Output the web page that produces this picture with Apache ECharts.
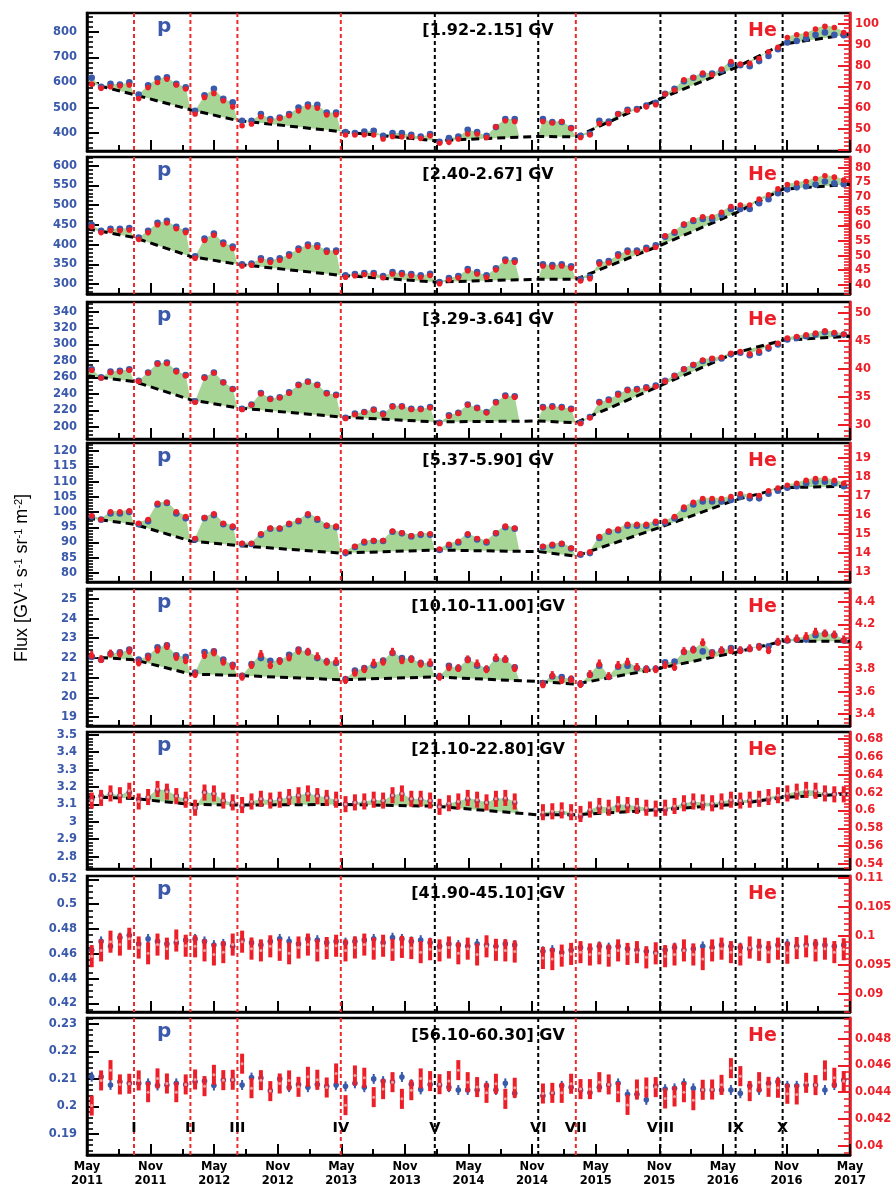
<!DOCTYPE html>
<html>
<head>
<meta charset="utf-8">
<script src="https://cdn.jsdelivr.net/npm/echarts@6/dist/echarts.min.js"></script>
<style>
  html, body { margin: 0; padding: 0; background: #fff; }
  #chart { width: 892px; height: 1187px; }
</style>
</head>
<body>
<div id="chart"></div>
<script>
// Bartels rotations measured (2472 and 2473 missing)
const rotations = [
  2426,2427,2428,2429,2430,2431,2432,2433,2434,2435,2436,2437,2438,2439,2440,2441,
  2442,2443,2444,2445,2446,2447,2448,2449,2450,2451,2452,2453,2454,2455,2456,2457,
  2458,2459,2460,2461,2462,2463,2464,2465,2466,2467,2468,2469,2470,2471,
  2474,2475,2476,2477,2478,2479,2480,2481,2482,2483,2484,2485,2486,2487,2488,2489,
  2490,2491,2492,2493,2494,2495,2496,2497,2498,2499,2500,2501,2502,2503,2504,2505,2506
];
const tickLabels = ['May\n2011','Nov\n2011','May\n2012','Nov\n2012','May\n2013','Nov\n2013','May\n2014',
  'Nov\n2014','May\n2015','Nov\n2015','May\n2016','Nov\n2016','May\n2017'];
const boundaryRot = [2431, 2437, 2442, 2453, 2463, 2474, 2478, 2487, 2495, 2500];
const boundaryNames = ['I','II','III','IV','V','VI','VII','VIII','IX','X'];
const boundaryColors = ['#ee2b2b','#ee2b2b','#ee2b2b','#ee2b2b','#000','#000','#ee2b2b','#000','#000','#000'];
const binLabels = ['[1.92-2.15] GV','[2.40-2.67] GV','[3.29-3.64] GV','[5.37-5.90] GV',
  '[10.10-11.00] GV','[21.10-22.80] GV','[41.90-45.10] GV','[56.10-60.30] GV'];

// proton and helium fluxes, one value per rotation
const pFlux1 = [619,583,595,592,601,552,589,616,621,595,581,
  488,549,575,535,521,448,448,475,455,461,475,501,512,511,481,481,
  403,399,405,408,388,399,399,392,385,395,365,379,385,412,403,388,423,455,455,
  455,443,443,419,388,396,448,445,475,492,495,508,519,555,575,605,619,632,636,648,672,669,665,685,705,732,759,765,775,789,799,789,788];
const heFlux1 = [71.7,69.8,70.5,70.9,71.3,64.9,70.1,72.5,74.1,71.3,69.4,
  57.5,65.4,67.3,63.8,60.9,51.9,52.7,56.2,54.3,55.4,56.7,59.0,60.9,60.3,57.1,57.1,
  47.5,47.5,47.6,47.5,45.6,46.8,46.7,46.7,45.9,47.1,43.6,44.0,45.6,48.0,48.0,46.3,51.4,54.3,53.9,
  53.9,53.2,53.9,50.6,46.3,47.6,53.0,53.0,57.5,59.0,59.4,60.9,61.9,67.0,68.9,73.8,74.9,77.0,76.2,78.9,82.5,81.3,81.6,83.9,87.1,89.2,93.9,95.2,95.5,97.9,99.2,98.7,96.3];
const pFlux2 = [450,435,440,440,442,418,435,455,460,445,435,
  370,415,428,405,395,350,352,365,360,365,375,390,400,398,385,385,
  322,325,328,328,320,330,328,325,322,326,305,315,320,338,330,322,340,362,360,
  350,348,350,345,312,318,355,358,375,385,385,392,398,420,430,450,460,465,465,475,490,490,490,505,515,530,540,545,548,552,560,555,553];
const heFlux2 = [60.1,58.1,58.8,58.8,59.0,55.8,58.1,60.8,61.4,59.4,58.1,
  49.4,55.4,57.2,54.1,52.7,46.7,47.0,48.7,48.0,48.7,50.1,52.1,53.4,53.1,51.4,51.4,
  42.9,43.4,43.8,43.8,42.7,44.0,43.8,43.4,42.9,43.5,40.7,42.0,42.7,45.1,44.0,42.9,45.4,48.3,48.0,
  46.7,46.4,46.7,46.0,41.6,42.4,47.4,47.8,50.1,51.4,51.4,52.3,53.1,57.0,58.5,61.0,62.5,63.5,63.5,65.0,67.0,67.5,67.5,69.5,71.0,73.0,74.5,75.0,75.5,76.5,77.5,77.0,76.0];
const pFlux3 = [270,260,267,268,270,256,266,277,278,268,263,
  231,260,266,254,246,222,227,241,234,236,242,251,255,251,241,239,
  211,216,218,221,216,225,225,222,222,224,205,214,217,227,223,218,230,238,237,
  224,225,224,222,205,212,230,233,240,245,246,248,250,256,262,270,275,280,282,283,288,290,287,290,295,300,306,308,310,312,315,313,312];
const heFlux3 = [39.9,38.5,39.5,39.6,39.9,37.9,39.4,41.0,41.1,39.6,38.9,
  34.2,38.5,39.4,37.7,36.5,32.9,33.7,35.7,34.7,35.0,35.8,37.2,37.8,37.2,35.7,35.4,
  31.3,32.0,32.4,32.8,32.0,33.4,33.4,32.9,32.9,33.2,30.4,31.7,32.2,33.7,33.1,32.3,34.1,35.2,35.1,
  33.2,33.3,33.2,32.9,30.4,31.4,34.1,34.5,35.5,36.3,36.4,36.7,37.0,37.9,38.9,40.1,40.9,41.7,42.0,42.2,42.9,43.2,42.8,43.3,44.0,44.7,45.6,45.9,46.2,46.5,46.9,46.6,46.3];
const pFlux4 = [98.5,97.5,99.5,99.5,100,96,97,102.5,103,99.5,98,
  91,98,99,96,95,89.5,89.5,92.5,94.5,94.5,96,97,99,97.5,95.5,95,
  86.5,88.5,90,90.5,90.5,93.5,93,92,92.5,92.5,87.5,89,90,92.5,91,90,93,95,94.5,
  88.5,89,89.5,88,86,86.5,91.5,93.5,94,95.5,95.5,95.5,96.5,96.5,98,101,102.5,103.5,103.5,103.5,104,105,104.5,104.5,106,107,108,108.5,109.5,110,110,109.5,108.5];
const heFlux4 = [16.0,15.8,16.2,16.2,16.25,15.6,15.8,16.65,16.7,16.2,15.95,
  14.8,15.9,16.1,15.6,15.45,14.55,14.55,15.05,15.35,15.35,15.6,15.75,16.1,15.85,15.5,15.45,
  14.1,14.4,14.65,14.7,14.7,15.2,15.1,14.95,15.05,15.05,14.25,14.5,14.65,15.05,14.8,14.65,15.1,15.45,15.35,
  14.4,14.5,14.55,14.3,14.0,14.1,14.9,15.2,15.3,15.55,15.55,15.55,15.7,15.7,15.95,16.45,16.7,16.9,16.9,16.9,17.0,17.15,17.05,17.05,17.3,17.45,17.6,17.7,17.85,17.95,17.95,17.85,17.7];
const pFlux5 = [22.05,21.91,22.21,22.28,22.42,21.91,22.11,22.54,22.64,22.13,22.05,
  21.26,22.30,22.33,21.91,21.65,21.09,21.69,21.99,21.85,21.87,22.16,22.42,22.30,21.99,21.82,21.74,
  20.92,21.36,21.48,21.62,21.87,22.25,21.99,21.96,21.74,21.69,21.06,21.60,21.48,21.91,21.60,21.43,21.94,21.91,21.52,
  20.72,21.06,21.03,20.92,20.68,21.14,21.60,21.03,21.55,21.60,21.48,21.45,21.45,21.77,21.81,22.30,22.42,22.33,22.28,22.37,22.50,22.38,22.45,22.59,22.59,22.79,22.88,22.93,22.93,23.15,23.23,23.15,22.88];
const heFlux5 = [3.927,3.89,3.94,3.94,3.965,3.86,3.905,3.975,4.006,3.91,3.88,
  3.757,3.927,3.95,3.867,3.829,3.733,3.838,3.936,3.838,3.873,3.905,3.965,3.956,3.916,3.867,3.873,
  3.703,3.769,3.80,3.858,3.867,3.956,3.88,3.89,3.85,3.86,3.733,3.817,3.81,3.888,3.852,3.80,3.904,3.89,3.81,
  3.665,3.748,3.703,3.71,3.668,3.757,3.852,3.739,3.838,3.867,3.82,3.80,3.80,3.838,3.82,3.962,3.975,4.04,3.94,3.97,3.97,3.97,3.987,4.0,3.97,4.045,4.067,4.075,4.096,4.135,4.12,4.11,4.067];
const pFlux6 = [3.13,3.15,3.16,3.15,3.17,3.13,3.14,3.18,3.18,3.15,3.13,
  3.08,3.17,3.16,3.12,3.11,3.09,3.11,3.13,3.12,3.13,3.14,3.15,3.16,3.15,3.14,3.12,
  3.10,3.11,3.11,3.12,3.12,3.15,3.16,3.13,3.13,3.12,3.09,3.10,3.11,3.13,3.12,3.11,3.13,3.13,3.11,
  3.04,3.05,3.05,3.04,3.03,3.06,3.08,3.07,3.09,3.09,3.08,3.07,3.07,3.07,3.08,3.10,3.11,3.10,3.10,3.11,3.12,3.12,3.12,3.12,3.13,3.14,3.15,3.16,3.17,3.17,3.16,3.16,3.16];
const heFlux6 = [0.611,0.614,0.619,0.617,0.622,0.610,0.615,0.624,0.621,0.616,0.612,
  0.603,0.620,0.619,0.611,0.609,0.606,0.610,0.613,0.611,0.612,0.615,0.617,0.619,0.616,0.614,0.612,
  0.607,0.609,0.610,0.612,0.611,0.617,0.619,0.613,0.613,0.611,0.604,0.608,0.610,0.614,0.612,0.609,0.613,0.614,0.610,
  0.598,0.599,0.600,0.598,0.596,0.601,0.605,0.603,0.607,0.606,0.605,0.603,0.602,0.603,0.605,0.608,0.610,0.609,0.608,0.610,0.612,0.611,0.612,0.613,0.615,0.617,0.619,0.621,0.623,0.622,0.619,0.618,0.618];
const pFlux7 = [0.463,0.470,0.466,0.473,0.475,0.468,0.472,0.470,0.468,0.469,0.471,
  0.472,0.470,0.467,0.468,0.466,0.471,0.469,0.467,0.470,0.472,0.470,0.468,0.472,0.471,0.469,0.470,
  0.469,0.470,0.471,0.472,0.469,0.473,0.472,0.470,0.471,0.469,0.466,0.468,0.467,0.466,0.468,0.467,0.466,0.468,0.467,
  0.462,0.463,0.461,0.463,0.465,0.464,0.466,0.465,0.466,0.464,0.463,0.462,0.461,0.463,0.465,0.463,0.464,0.466,0.465,0.467,0.466,0.465,0.464,0.466,0.465,0.467,0.468,0.466,0.467,0.468,0.467,0.466,0.467];
const heFlux7 = [0.0965,0.0975,0.0990,0.0985,0.0995,0.0980,0.0970,0.0985,0.0978,0.0992,0.0983,
  0.0982,0.0975,0.0968,0.0972,0.0985,0.0990,0.0978,0.0975,0.0982,0.0976,0.0970,0.0980,0.0985,0.0975,0.0979,0.0983,
  0.0975,0.0980,0.0985,0.0978,0.0983,0.0976,0.0981,0.0979,0.0972,0.0977,0.0975,0.0980,0.0970,0.0978,0.0968,0.0982,0.0976,0.0975,0.0973,
  0.0962,0.0960,0.0966,0.0969,0.0972,0.0968,0.0970,0.0966,0.0975,0.0969,0.0972,0.0963,0.0970,0.0965,0.0968,0.0975,0.0968,0.0960,0.0975,0.0978,0.0972,0.0968,0.0980,0.0976,0.0972,0.0978,0.0971,0.0979,0.0982,0.0975,0.0978,0.0972,0.0977];
const pFlux8 = [0.2108,0.2108,0.2078,0.209,0.2084,0.2084,0.2084,0.2076,0.2078,0.2084,0.208,
  0.209,0.2092,0.2076,0.2096,0.2096,0.2078,0.2105,0.2103,0.2057,0.21,0.207,0.208,0.207,0.208,0.2073,0.2078,
  0.2073,0.2084,0.207,0.21,0.2092,0.209,0.2107,0.2081,0.2062,0.208,0.2078,0.207,0.206,0.206,0.206,0.2075,0.206,0.2084,0.2048,
  0.2039,0.2048,0.2075,0.207,0.206,0.205,0.207,0.2078,0.2084,0.2044,0.2044,0.2024,0.2075,0.2063,0.2066,0.2084,0.2066,0.206,0.206,0.206,0.206,0.2048,0.2075,0.206,0.2084,0.209,0.2075,0.2075,0.2078,0.2078,0.206,0.2078,0.2096];
const heFlux8 = [0.0430,0.04488,0.04565,0.04458,0.04463,0.04488,0.0440,0.04503,0.04465,0.0440,0.04458,
  0.04495,0.04445,0.0453,0.0449,0.04493,0.04613,0.0443,0.0449,0.04408,0.04465,0.04488,0.0444,0.04515,0.04493,0.04435,0.0454,
  0.04303,0.04525,0.04508,0.04363,0.04423,0.04475,0.0435,0.04415,0.04503,0.04483,0.0446,0.04483,0.04565,0.04475,0.04438,0.04395,0.04463,0.0435,0.04433,
  0.0439,0.04395,0.04395,0.04463,0.04423,0.04423,0.04475,0.04458,0.044,0.04305,0.0442,0.04435,0.04438,0.04353,0.04368,0.044,0.0434,0.04418,0.0442,0.04455,0.0458,0.0452,0.04408,0.04475,0.0444,0.04433,0.04388,0.04383,0.0447,0.04453,0.04563,0.04508,0.04483];

// dashed reference line: values at start, I..X, end
const base1 = [599,552,492,449,405,369,386,384,536,659,752,792];
const base2 = [440,418,370,350,322,305,312,312,398,480,540,553];
const base3 = [262,255,233,223,212,206,207,205,250,290,305,310];
const base4 = [98,96,90.5,89,86.5,87.5,87,85.5,95,104,108,108.5];
const base5 = [22.06,21.91,21.18,21.11,20.89,21.03,20.8,20.67,21.48,22.28,22.84,22.84];
const base6 = [3.144,3.134,3.10,3.096,3.10,3.09,3.04,3.04,3.07,3.10,3.14,3.16];

// typical error sizes per panel
const pErr = [1.5, 1.2, 0.5, 0.12, 0.05, 0.012, 0.004, 0.0018];
const heErr = [0.3, 0.25, 0.12, 0.05, 0.035, 0.009, 0.0019, 0.00075];

// axis ticks
const pTicks = [[400,500,600,700,800],[300,350,400,450,500,550,600],[200,220,240,260,280,300,320,340],
  [80,85,90,95,100,105,110,115,120],[19,20,21,22,23,24,25],[2.8,2.9,3,3.1,3.2,3.3,3.4,3.5],
  [0.42,0.44,0.46,0.48,0.5,0.52],[0.19,0.2,0.21,0.22,0.23]];
const heTicks = [[40,50,60,70,80,90,100],[40,45,50,55,60,65,70,75,80],[30,35,40,45,50],
  [13,14,15,16,17,18,19],[3.4,3.6,3.8,4,4.2,4.4],[0.54,0.56,0.58,0.6,0.62,0.64,0.66,0.68],
  [0.09,0.095,0.1,0.105,0.11],[0.04,0.042,0.044,0.046,0.048]];
const pMinorStep = [20, 10, 5, 1, 0.2, 0.02, 0.005, 0.002];
const heMinorStep = [2, 1, 1, 0.2, 0.04, 0.004, 0.001, 0.0005];
const pRange = [[328,876],[274.6,622],[185.2,351.6],[77,122.7],[18.54,25.5],[2.729,3.516],[0.4131,0.5227],[0.1824,0.2321]];
const heRange = [[39.5,105.2],[36.9,83.6],[27.5,51.9],[12.48,19.77],[3.293,4.516],[0.5344,0.6878],[0.0869,0.1103],[0.0393,0.04955]];

const pAll = [pFlux1,pFlux2,pFlux3,pFlux4,pFlux5,pFlux6,pFlux7,pFlux8];
const heAll = [heFlux1,heFlux2,heFlux3,heFlux4,heFlux5,heFlux6,heFlux7,heFlux8];
const baseAll = [base1,base2,base3,base4,base5,base6,null,null];

// layout
const gridTop = [13,157,302,443,589,732,876,1018];
const gridH = [138,137,137,139,137,137,136,137];
const LEFT = 87, RIGHT = 42;
const BLUE = '#3a59aa', RED = '#ec1f28', GREEN = '#a7d595';
const FONT = "'DejaVu Sans', sans-serif";
const TITLE_FONT = "'Liberation Sans', Arial, sans-serif";

const MONTH = 30.4375;
const xOfRot = r => (27 * (r - 2426) + 13.5) / MONTH;   // months after 15 May 2011
const xOfBound = r => 27 * (r - 2426) / MONTH;
const xs = rotations.map(xOfRot);
const vx = [0].concat(boundaryRot.map(xOfBound), [72]);
const half = 13.5 / MONTH;

function minorValues(min, max, step) {
  const out = [];
  for (let k = Math.ceil(min / step - 1e-9); k * step <= max + 1e-12; k++) out.push(+(k * step).toFixed(6));
  return out;
}

const grids = [], xAxes = [], yAxes = [], series = [], graphics = [];

for (let g = 0; g < 8; g++) {
  grids.push({ left: LEFT, right: RIGHT, top: gridTop[g], height: gridH[g], show: true,
    borderColor: '#000', borderWidth: 2.5, backgroundColor: 'transparent', outerBoundsMode: 'none' });

  xAxes.push({
    gridIndex: g, type: 'value', min: 0, max: 72, interval: 6,
    axisLine: { show: true, lineStyle: { color: '#000', width: 2.5 } },
    axisTick: { show: true, inside: true, length: 11, lineStyle: { color: '#000', width: 2 } },
    minorTick: { show: true, splitNumber: 2, length: 6, lineStyle: { color: '#000', width: 2 } },
    splitLine: { show: false },
    axisLabel: { show: g === 7, formatter: v => tickLabels[Math.round(v / 6)] || '',
      color: '#000', fontWeight: 'bold', fontSize: 11.5, fontFamily: FONT, lineHeight: 14, margin: 5 }
  });

  const [pMin, pMax] = pRange[g];
  const [hMin, hMax] = heRange[g];
  yAxes.push({
    gridIndex: g, type: 'value', position: 'left', min: pMin, max: pMax,
    axisLine: { show: true, lineStyle: { color: '#000', width: 2.5 } },
    axisTick: { show: true, inside: true, length: 12, customValues: pTicks[g], lineStyle: { color: '#000', width: 2 } },
    axisLabel: { show: true, customValues: pTicks[g], formatter: v => String(v), color: BLUE,
      fontWeight: 'bold', fontSize: 11.5, fontFamily: FONT, margin: 10 },
    splitLine: { show: false }
  });
  yAxes.push({
    gridIndex: g, type: 'value', position: 'left', min: pMin, max: pMax,
    axisLine: { show: false },
    axisTick: { show: true, inside: true, length: 6, customValues: minorValues(pMin, pMax, pMinorStep[g]),
      lineStyle: { color: '#000', width: 1.6 } },
    axisLabel: { show: false }, splitLine: { show: false }
  });
  yAxes.push({
    gridIndex: g, type: 'value', position: 'right', min: hMin, max: hMax,
    axisLine: { show: true, lineStyle: { color: RED, width: 2.5 } },
    axisTick: { show: true, inside: true, length: 12, customValues: heTicks[g], lineStyle: { color: RED, width: 2 } },
    axisLabel: { show: true, customValues: heTicks[g], formatter: v => String(v), color: RED,
      fontWeight: 'bold', fontSize: 11.5, fontFamily: FONT, margin: 5 },
    splitLine: { show: false }
  });
  yAxes.push({
    gridIndex: g, type: 'value', position: 'right', min: hMin, max: hMax,
    axisLine: { show: false },
    axisTick: { show: true, inside: true, length: 6, customValues: minorValues(hMin, hMax, heMinorStep[g]),
      lineStyle: { color: RED, width: 1.6 } },
    axisLabel: { show: false }, splitLine: { show: false }
  });

  const p = pAll[g], he = heAll[g], base = baseAll[g];
  const yL = 4 * g, yR = 4 * g + 2;
  const heToP = v => pMin + (v - hMin) / (hMax - hMin) * (pMax - pMin);

  // green shaded excess above the reference line
  if (base) {
    series.push({
      type: 'custom', xAxisIndex: g, yAxisIndex: yL, z: 1, silent: true,
      data: base.slice(0, -1).map((_, s) => [s, 0]),
      renderItem: (params, api) => {
        const s = api.value(0);
        const x0 = vx[s], x1 = vx[s + 1];
        const idx = [];
        xs.forEach((x, i) => { if (x > x0 && x < x1) idx.push(i); });
        if (!idx.length) return null;
        const bAt = x => base[s] + (base[s + 1] - base[s]) * (x - x0) / (x1 - x0);
        const sx = Math.max(x0, xs[idx[0]] - half);
        const ex = Math.min(x1, xs[idx[idx.length - 1]] + half);
        const pts = [api.coord([sx, bAt(sx)])];
        idx.forEach(i => {
          const a = api.coord([xs[i], p[i]]);
          const b = api.coord([xs[i], heToP(he[i])]);
          pts.push([a[0], Math.min(a[1], b[1])]);
        });
        pts.push(api.coord([ex, bAt(ex)]));
        return { type: 'polygon', shape: { points: pts }, style: { fill: GREEN } };
      }
    });
  }

  // vertical period lines
  series.push({
    type: 'custom', xAxisIndex: g, yAxisIndex: yL, z: 2, silent: true,
    data: boundaryRot.map((r, k) => [xOfBound(r), k]),
    renderItem: (params, api) => {
      const x = api.value(0), k = api.value(1);
      const top = api.coord([x, pMax]), bot = api.coord([x, pMin]);
      return { type: 'line', shape: { x1: top[0], y1: top[1], x2: bot[0], y2: bot[1] },
        style: { stroke: boundaryColors[k], lineWidth: 2, lineDash: [4, 3] } };
    }
  });

  if (base) {
    series.push({
      type: 'line', xAxisIndex: g, yAxisIndex: yL, z: 3, silent: true, symbol: 'none',
      data: base.map((b, k) => [vx[k], b]),
      lineStyle: { color: '#000', width: 3, type: [8, 5] }
    });
  }

  const small = g >= 5;
  series.push({
    type: 'custom', xAxisIndex: g, yAxisIndex: yL, z: 4, silent: true,
    data: p.map((v, i) => [xs[i], v, pErr[g]]),
    renderItem: (params, api) => {
      const x = api.value(0), v = api.value(1), e = api.value(2);
      const c = api.coord([x, v]), lo = api.coord([x, v - e]), hi = api.coord([x, v + e]);
      return { type: 'group', children: [
        { type: 'line', shape: { x1: c[0], y1: lo[1], x2: c[0], y2: hi[1] }, style: { stroke: BLUE, lineWidth: 2 } },
        { type: 'circle', shape: { cx: c[0], cy: c[1], r: small ? 2.8 : 3.3 }, style: { fill: BLUE } }
      ] };
    }
  });
  series.push({
    type: 'custom', xAxisIndex: g, yAxisIndex: yR, z: 5, silent: true,
    data: he.map((v, i) => [xs[i], v, heErr[g]]),
    renderItem: (params, api) => {
      const x = api.value(0), v = api.value(1), e = api.value(2);
      const c = api.coord([x, v]), lo = api.coord([x, v - e]), hi = api.coord([x, v + e]);
      const children = [
        { type: 'line', shape: { x1: c[0], y1: lo[1], x2: c[0], y2: hi[1] }, style: { stroke: RED, lineWidth: small ? 4 : 3 } }
      ];
      if (small) children.push({ type: 'circle', shape: { cx: c[0], cy: c[1], r: 1.5 }, style: { fill: '#f7a0a0' } });
      else children.push({ type: 'circle', shape: { cx: c[0], cy: c[1] + 0.8, r: 2.8 }, style: { fill: RED } });
      return { type: 'group', children };
    }
  });

  graphics.push({ type: 'text', x: 157, y: gridTop[g] + 14,
    style: { text: 'p', fill: BLUE, font: 'bold 20px ' + FONT, verticalAlign: 'middle' } });
  graphics.push({ type: 'text', x: 748, y: gridTop[g] + 18,
    style: { text: 'He', fill: RED, font: 'bold 19px ' + FONT, verticalAlign: 'middle' } });
  graphics.push({ type: 'text', x: 488, y: gridTop[g] + 18,
    style: { text: binLabels[g], fill: '#000', font: 'bold 16px ' + FONT, align: 'center', verticalAlign: 'middle' } });
}

// period labels in the last panel
series.push({
  type: 'custom', xAxisIndex: 7, yAxisIndex: 28, z: 6, silent: true,
  data: boundaryRot.map((r, k) => [xOfBound(r), k]),
  renderItem: (params, api) => {
    const x = api.value(0), k = api.value(1);
    const pt = api.coord([x, pRange[7][0]]);
    return { type: 'text', style: { text: boundaryNames[k], x: pt[0], y: pt[1] - 27,
      fill: '#000', font: 'bold 14.5px ' + FONT, align: 'center', verticalAlign: 'middle' } };
  }
});

graphics.push({
  type: 'text', x: 22, y: 578, rotation: Math.PI / 2,
  style: {
    text: 'Flux [GV{s|-1} s{s|-1} sr{s|-1} m{s|-2}]',
    fill: '#000', font: '18px ' + TITLE_FONT, align: 'center', verticalAlign: 'middle',
    rich: { s: { fontSize: 11, fontFamily: TITLE_FONT, verticalAlign: 'top', lineHeight: 18, padding: [0, 0, 8, 0] } }
  }
});

const chart = echarts.init(document.getElementById('chart'), null, { renderer: 'canvas' });
chart.setOption({
  animation: false,
  backgroundColor: '#fff',
  grid: grids,
  xAxis: xAxes,
  yAxis: yAxes,
  series: series,
  graphic: graphics
});
</script>
</body>
</html>
